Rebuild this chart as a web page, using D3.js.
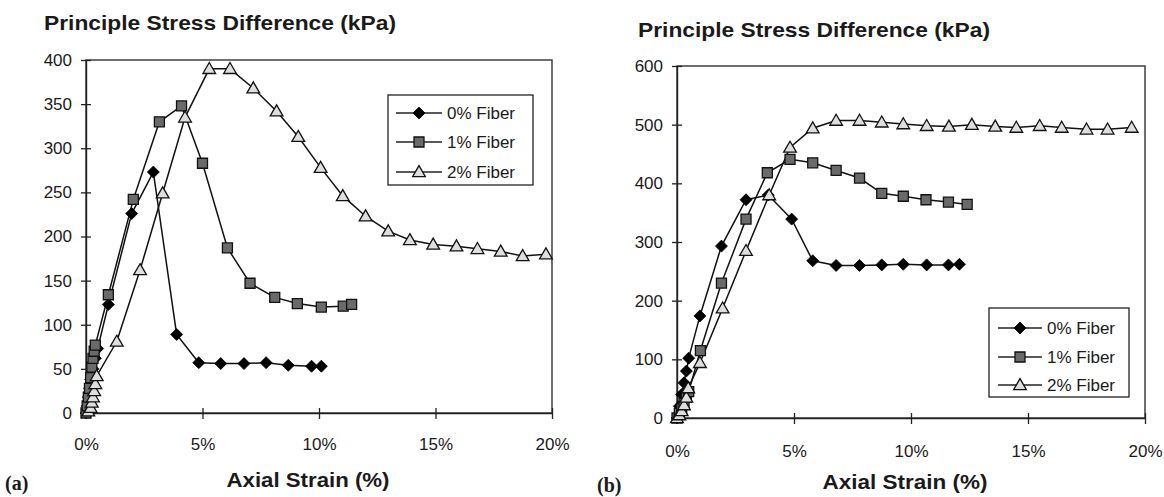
<!DOCTYPE html>
<html><head><meta charset="utf-8">
<script src="https://cdn.jsdelivr.net/npm/d3@7"></script>
<style>body{margin:0;background:#fff}svg{display:block}</style>
</head><body>
<svg id="c" width="1164" height="497"></svg>
<script>
// ---------- data ----------
const seriesNames = ["0% Fiber", "1% Fiber", "2% Fiber"];
const xTicks = [0, 5, 10, 15, 20];
const xTickLabels = ["0%", "5%", "10%", "15%", "20%"];
const aYTicks = [0, 50, 100, 150, 200, 250, 300, 350, 400];
const bYTicks = [0, 100, 200, 300, 400, 500, 600];
const titleText = "Principle Stress Difference (kPa)";
const axisTitleText = "Axial Strain (%)";
const panelLabels = ["(a)", "(b)"];

// panel (a)
const a0Strain = [0, 0.05, 0.1, 0.15, 0.2, 0.3, 0.4, 0.5, 0.96, 1.96, 2.89, 3.89, 4.84, 5.78, 6.78, 7.73, 8.68, 9.68, 10.1];
const a0Stress = [0, 8, 18, 28, 38, 50, 62, 73, 123, 226, 273, 89, 57, 56, 56, 57, 54, 53, 53];
const a1Strain = [0, 0.05, 0.1, 0.15, 0.2, 0.25, 0.3, 0.35, 0.4, 0.96, 2.03, 3.15, 4.1, 5.0, 6.07, 7.04, 8.1, 9.07, 10.1, 11.04, 11.4];
const a1Stress = [0, 8, 18, 28, 40, 52, 62, 70, 77, 134, 242, 330, 348, 283, 187, 147, 131, 124, 120, 121, 123];
const a2Strain = [0.1, 0.2, 0.25, 0.3, 0.35, 0.4, 0.46, 1.32, 2.32, 3.29, 4.25, 5.29, 6.18, 7.18, 8.18, 9.11, 10.07, 11.02, 12.0, 12.97, 13.9, 14.9, 15.9, 16.8, 17.8, 18.74, 19.74];
const a2Stress = [2, 6, 12, 18, 25, 33, 42, 81, 162, 249, 335, 390, 390, 368, 342, 313, 278, 246, 223, 206, 196, 191, 189, 186, 183, 178, 180];

// panel (b)
const b0Strain = [0, 0.1, 0.2, 0.3, 0.4, 0.5, 0.98, 1.9, 2.95, 3.9, 4.9, 5.8, 6.8, 7.8, 8.75, 9.67, 10.67, 11.6, 12.07];
const b0Stress = [0, 20, 40, 60, 80, 102, 174, 293, 372, 380, 339, 268, 260, 260, 261, 262, 261, 261, 262];
const b1Strain = [0, 0.1, 0.2, 0.3, 0.4, 0.5, 1.0, 1.9, 2.95, 3.86, 4.83, 5.8, 6.8, 7.8, 8.75, 9.67, 10.64, 11.6, 12.4];
const b1Stress = [0, 8, 16, 25, 35, 45, 115, 230, 339, 418, 441, 435, 422, 409, 383, 378, 372, 368, 364];
const b2Strain = [0, 0.1, 0.2, 0.3, 0.4, 0.48, 0.98, 1.95, 2.95, 3.94, 4.83, 5.8, 6.8, 7.8, 8.75, 9.67, 10.67, 11.62, 12.6, 13.6, 14.5, 15.5, 16.44, 17.5, 18.4, 19.43];
const b2Stress = [0, 5, 12, 22, 35, 51, 94, 187, 285, 380, 461, 494, 507, 507, 504, 501, 498, 497, 500, 497, 495, 498, 495, 492, 492, 495];

// ---------- drawing ----------
const svg = d3.select("#c");
const FONT = "'Liberation Sans', Arial, Helvetica, sans-serif";
const INK = "#1a1a1a";

function marker(g, type, x, y) {
  if (type === 0) {
    const r = 6;
    g.append("path").attr("d", `M${x},${y - r}L${x + r},${y}L${x},${y + r}L${x - r},${y}Z`)
      .attr("fill", "#000").attr("stroke", "#000").attr("stroke-width", 0.8);
  } else if (type === 1) {
    g.append("path").attr("d", d3.symbol(d3.symbolSquare, 100)())
      .attr("transform", `translate(${x},${y})`)
      .attr("fill", "#6a6a6a").attr("stroke", "#111").attr("stroke-width", 1.3);
  } else {
    g.append("path").attr("d", d3.symbol(d3.symbolTriangle, 70)())
      .attr("transform", `translate(${x},${y + 1})`)
      .attr("fill", "#dedede").attr("stroke", "#111").attr("stroke-width", 1.3);
  }
}

function panel(cfg) {
  const g = svg.append("g");
  const x = d3.scaleLinear().domain([0, 20]).range(cfg.xr);
  const y = d3.scaleLinear().domain([0, cfg.ymax]).range(cfg.yr);

  // frame
  g.append("rect").attr("x", cfg.xr[0]).attr("y", cfg.yr[1])
    .attr("width", cfg.xr[1] - cfg.xr[0]).attr("height", cfg.yr[0] - cfg.yr[1])
    .attr("fill", "none").attr("stroke", "#333").attr("stroke-width", 1.4);

  // y axis
  const ya = g.append("g").attr("transform", `translate(${cfg.xr[0]},0)`)
    .call(d3.axisLeft(y).tickValues(cfg.yTicks).tickSize(5).tickSizeOuter(0).tickPadding(cfg.yPad));
  ya.select(".domain").attr("stroke", "#222").attr("stroke-width", 1.4);
  ya.selectAll(".tick line").attr("x1", 5).attr("stroke", "#222").attr("stroke-width", 1.3);
  ya.selectAll(".tick text").attr("font-family", FONT).attr("font-size", 17).attr("fill", INK);

  // x axis
  const xa = g.append("g").attr("transform", `translate(0,${cfg.yr[0]})`)
    .call(d3.axisBottom(x).tickValues(xTicks).tickFormat((d, i) => xTickLabels[i]).tickSize(6).tickSizeOuter(0));
  xa.select(".domain").attr("stroke", "#222").attr("stroke-width", 1.4);
  xa.selectAll(".tick line").attr("y1", -5).attr("stroke", "#222").attr("stroke-width", 1.3);
  xa.selectAll(".tick text").attr("font-family", FONT).attr("font-size", 17).attr("fill", INK)
    .attr("y", cfg.xLabOff).attr("dy", "0.35em");

  // series
  const line = d3.line().x(d => x(d[0])).y(d => y(d[1]));
  cfg.series.forEach((s, k) => {
    const pts = s[0].map((v, i) => [v, s[1][i]]);
    g.append("path").datum(pts).attr("d", line).attr("fill", "none")
      .attr("stroke", "#111").attr("stroke-width", 1.5);
  });
  cfg.series.forEach((s, k) => {
    const mg = g.append("g");
    s[0].forEach((v, i) => marker(mg, k, x(v), y(s[1][i])));
  });

  // legend
  const L = cfg.legend;
  g.append("rect").attr("x", L.x).attr("y", L.y).attr("width", L.w).attr("height", L.h)
    .attr("fill", "#fff").attr("stroke", "#222").attr("stroke-width", 1.3);
  seriesNames.forEach((n, k) => {
    const ry = L.rows[k];
    g.append("line").attr("x1", L.lx0).attr("x2", L.lx1).attr("y1", ry).attr("y2", ry)
      .attr("stroke", "#222").attr("stroke-width", 1.4);
    marker(g, k, (L.lx0 + L.lx1) / 2, ry);
    g.append("text").attr("x", L.tx).attr("y", ry).attr("dy", "0.35em")
      .attr("font-family", FONT).attr("font-size", 17).attr("fill", INK).text(n);
  });

  // titles
  g.append("text").attr("x", cfg.title[0]).attr("y", cfg.title[1])
    .attr("font-family", FONT).attr("font-weight", "bold").attr("font-size", 21)
    .attr("textLength", cfg.title[2]).attr("lengthAdjust", "spacingAndGlyphs")
    .attr("fill", INK).text(titleText);
  g.append("text").attr("x", cfg.axTitle[0]).attr("y", cfg.axTitle[1]).attr("dy", "0.35em")
    .attr("text-anchor", "middle")
    .attr("font-family", FONT).attr("font-weight", "bold").attr("font-size", 21)
    .attr("textLength", cfg.axTitle[2]).attr("lengthAdjust", "spacingAndGlyphs")
    .attr("fill", INK).text(axisTitleText);
  g.append("text").attr("x", cfg.plabel[0]).attr("y", cfg.plabel[1]).attr("dy", "0.35em")
    .attr("font-family", "'Liberation Serif', 'Times New Roman', serif").attr("font-weight", "bold")
    .attr("font-size", 20).attr("fill", INK).text(cfg.plabel[2]);
}

panel({
  xr: [86, 552], yr: [413, 60], ymax: 400, yTicks: aYTicks, yPad: 9, xLabOff: 31,
  series: [[a0Strain, a0Stress], [a1Strain, a1Stress], [a2Strain, a2Stress]],
  legend: { x: 388, y: 95, w: 145, h: 90, rows: [113, 142, 172], lx0: 396, lx1: 442, tx: 447 },
  title: [44, 30, 352], axTitle: [308, 480, 163], plabel: [5, 483, panelLabels[0]]
});
panel({
  xr: [677, 1145], yr: [418, 66], ymax: 600, yTicks: bYTicks, yPad: 9, xLabOff: 33,
  series: [[b0Strain, b0Stress], [b1Strain, b1Stress], [b2Strain, b2Stress]],
  legend: { x: 989, y: 308, w: 140, h: 89, rows: [328, 357, 385], lx0: 998, lx1: 1042, tx: 1047 },
  title: [638, 37, 352], axTitle: [905, 482, 165], plabel: [597, 485, panelLabels[1]]
});
</script>
</body></html>
